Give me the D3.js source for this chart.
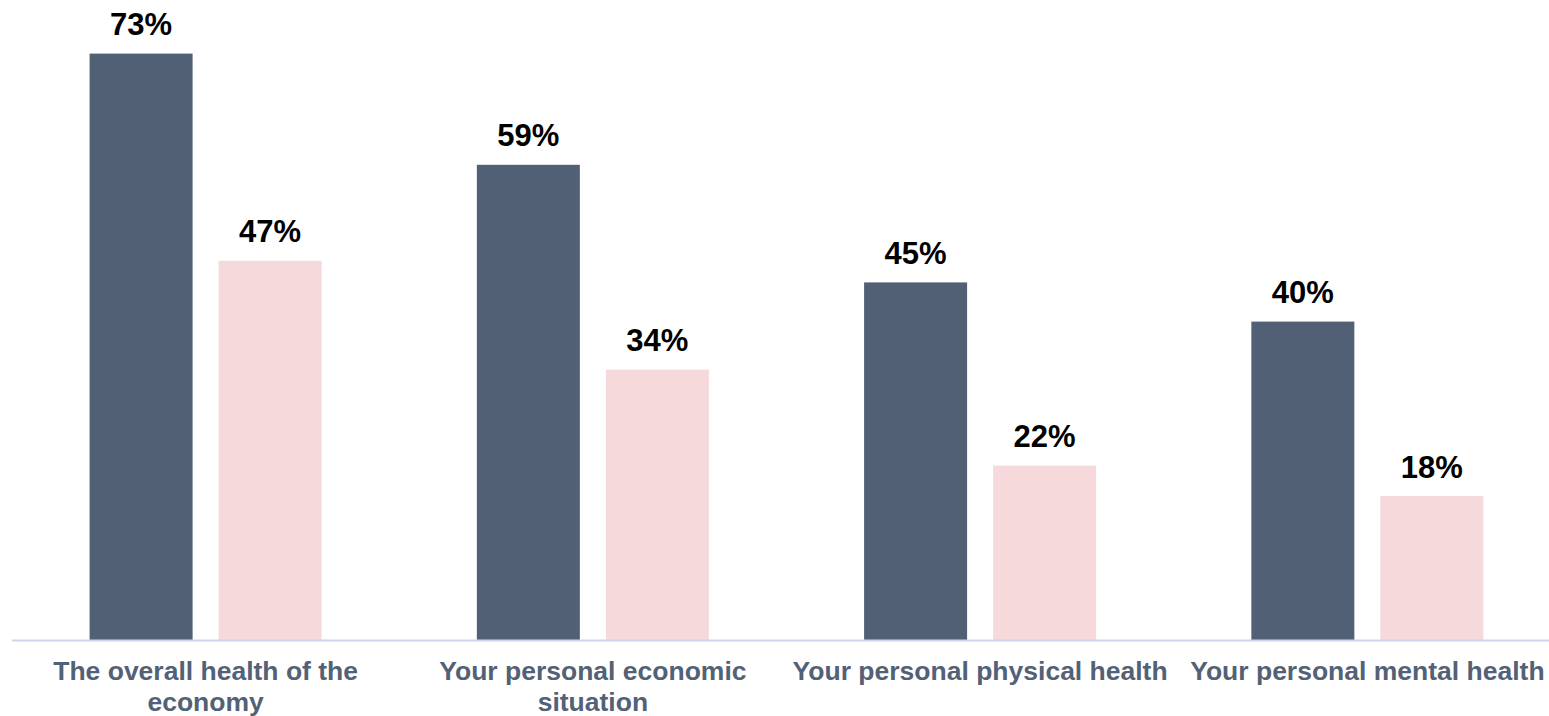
<!DOCTYPE html>
<html>
<head>
<meta charset="utf-8">
<script src="https://cdn.jsdelivr.net/npm/d3@7"></script>
<style>
  html, body { margin: 0; padding: 0; background: #ffffff; }
  svg { display: block; }
</style>
</head>
<body>
<svg id="chart" width="1549" height="716"></svg>
<script>
const categories = [
  "The overall health of the economy",
  "Your personal economic situation",
  "Your personal physical health",
  "Your personal mental health"
];
const seriesNames = ["Series A", "Series B"];
const seriesA = [73.3, 59.4, 44.7, 39.8];
const seriesB = [47.4, 33.8, 21.8, 18.0];

const colors = ["#526076", "#f5d9db"];
const W = 1549, H = 716;
const svg = d3.select("#chart");
const fmt = d3.format(".0f");

const x0 = d3.scaleBand().domain(categories).range([12, 1561]).paddingInner(0).paddingOuter(0);
const x1 = d3.scaleBand().domain(seriesNames).range([77.6, 77.6 + 232]).paddingInner(26 / 129).paddingOuter(0);
const y = d3.scaleLinear().domain([0, 80]).range([640, 0]);

const data = categories.map((c, i) => ({ cat: c, vals: [seriesA[i], seriesB[i]] }));

const groups = svg.selectAll("g.grp").data(data).enter().append("g")
  .attr("class", "grp")
  .attr("transform", d => `translate(${x0(d.cat)},0)`);

groups.selectAll("rect").data(d => d.vals.map((v, j) => ({ s: seriesNames[j], v, j })))
  .enter().append("rect")
  .attr("x", d => x1(d.s))
  .attr("width", x1.bandwidth())
  .attr("y", d => y(d.v))
  .attr("height", d => y(0) - y(d.v))
  .attr("fill", d => colors[d.j]);

groups.selectAll("text.val").data(d => d.vals.map((v, j) => ({ s: seriesNames[j], v, j })))
  .enter().append("text")
  .attr("class", "val")
  .attr("x", d => x1(d.s) + x1.bandwidth() / 2)
  .attr("y", d => y(d.v) - 18.5)
  .attr("text-anchor", "middle")
  .attr("font-family", "Liberation Sans, Arial, sans-serif")
  .attr("font-weight", "bold")
  .attr("font-size", "31px")
  .attr("fill", "#000000")
  .text(d => fmt(d.v) + "%");

// axis
const xAxis = d3.axisBottom(x0).tickSize(0).tickPadding(0);
const axisG = svg.append("g").attr("transform", "translate(0,640.5)").call(xAxis);
axisG.select(".domain").remove();
svg.append("line")
  .attr("x1", 12).attr("x2", W)
  .attr("y1", 640.5).attr("y2", 640.5)
  .attr("stroke", "#d0d3ee").attr("stroke-width", 2);

axisG.selectAll(".tick text")
  .attr("font-family", "Liberation Sans, Arial, sans-serif")
  .attr("font-weight", "bold")
  .attr("font-size", "26.5px")
  .attr("fill", "#536176")
  .attr("y", 0)
  .attr("dy", 0)
  .each(function(d) {
    const t = d3.select(this);
    const words = d.split(" ");
    t.text(null);
    const maxW = 385;
    let line = [];
    let lines = [];
    const probe = t.append("tspan");
    words.forEach(w => {
      const test = line.concat([w]).join(" ");
      probe.text(test);
      if (probe.node().getComputedTextLength() > maxW && line.length) {
        lines.push(line.join(" "));
        line = [w];
      } else {
        line.push(w);
      }
    });
    lines.push(line.join(" "));
    probe.remove();
    lines.forEach((l, i) => {
      t.append("tspan").attr("x", 0).attr("y", 39.5 + i * 30.5).text(l);
    });
  });
</script>
</body>
</html>
